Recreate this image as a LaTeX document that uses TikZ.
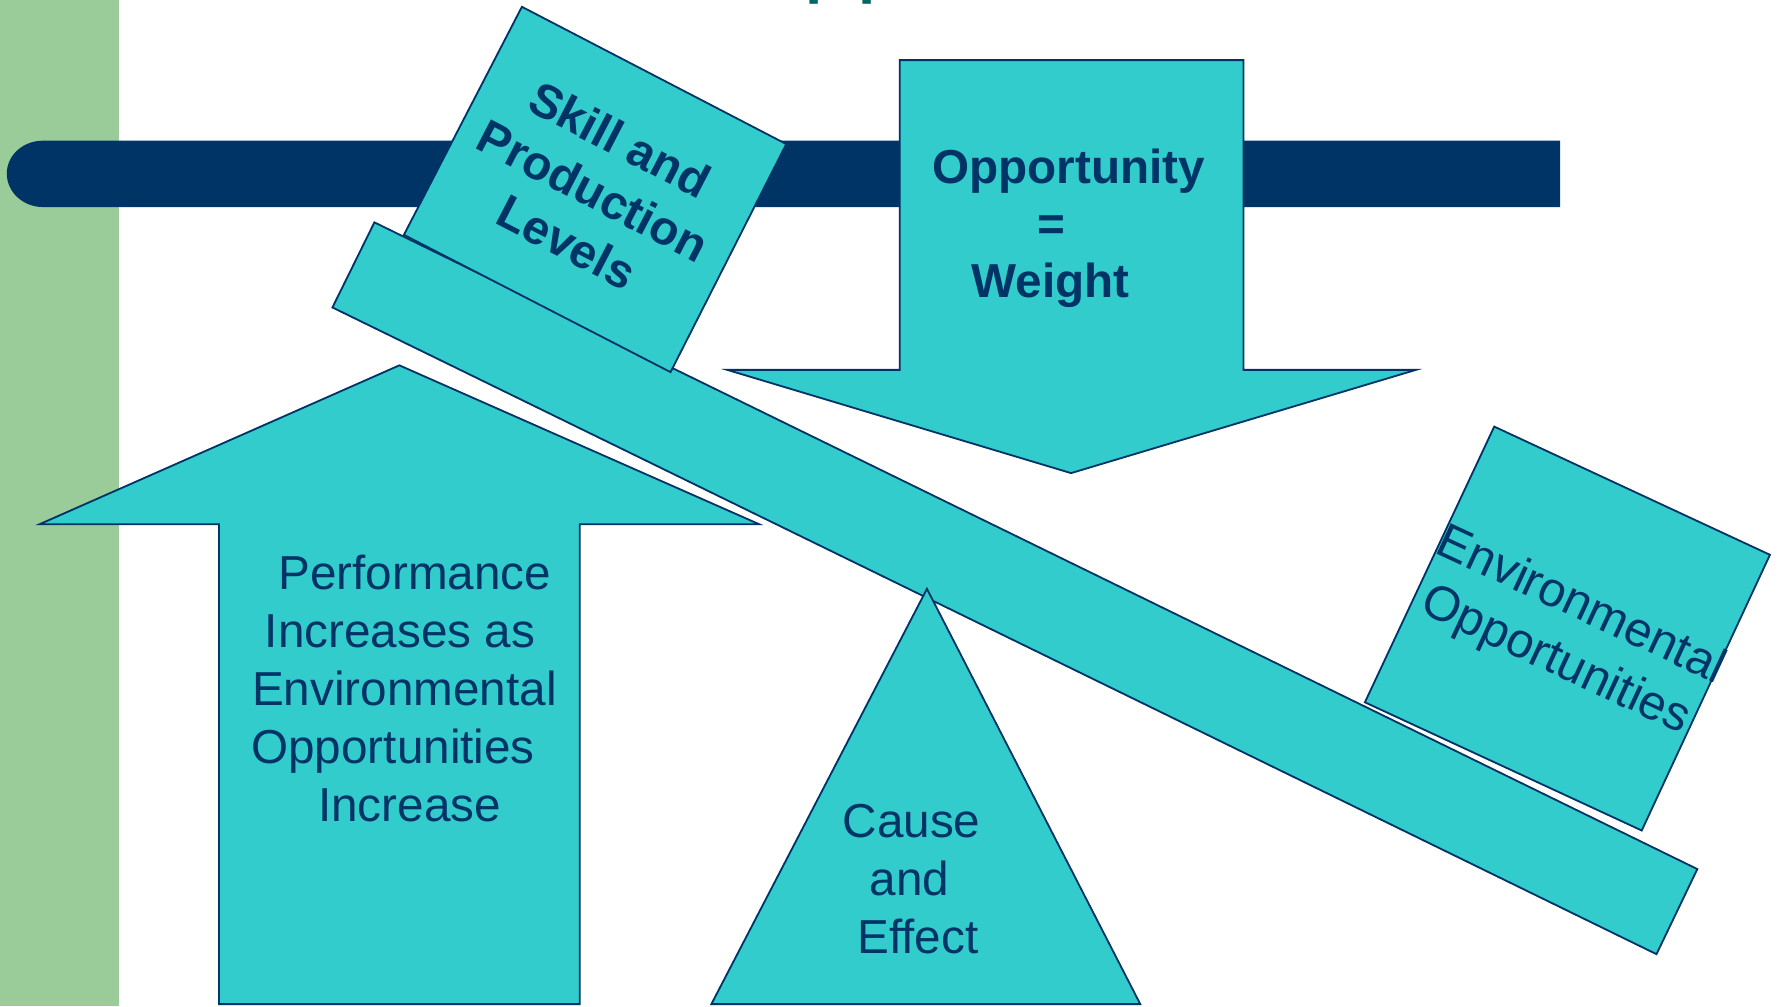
\documentclass[tikz,border=0pt]{standalone}
\usepackage{fontspec}
\setmainfont{Liberation Sans}
\definecolor{tealfill}{HTML}{33CCCC}
\definecolor{navy}{HTML}{003366}
\definecolor{sage}{HTML}{99CC99}
\definecolor{titleteal}{HTML}{006666}
\begin{document}
\begin{tikzpicture}[x=0.5pt,y=-0.5pt,
  shapefill/.style={fill=tealfill,draw=navy,line width=0.8pt,line join=miter},
  lbl/.style={text=navy,font=\fontsize{21}{25.5}\selectfont,inner sep=0pt,anchor=base},
  blbl/.style={text=navy,font=\fontsize{21}{25.5}\selectfont\bfseries,inner sep=0pt,anchor=base}]
\useasboundingbox (0,0) rectangle (1568,887);
\clip (0,0) rectangle (1568,887);
% background bars
\fill[sage] (0,0) rectangle (105,887);
\fill[navy] (1375,124) -- (38,124) .. controls (20,124) and (6,137) .. (6,153)
  .. controls (6,169) and (20,182.5) .. (38,182.5) -- (1375,182.5) -- cycle;
% cut-off title
\node[text=titleteal,font=\fontsize{42}{50}\selectfont,anchor=base west,inner sep=0pt] (title) at (707.5,-13.5) {pp};
% down arrow
\draw[shapefill] (793,53) -- (1096,53) -- (1096,326) -- (1248,326) -- (944,417) -- (641,326) -- (793,326) -- cycle;
% up arrow
\draw[shapefill] (352,322) -- (669,462) -- (511,462) -- (511,885) -- (193,885) -- (193,462) -- (35,462) -- cycle;
% beam
\draw[shapefill] (330,196) -- (1496,766) -- (1460,841) -- (293,271) -- cycle;
% environmental box
\draw[shapefill] (1317,376) -- (1560,489) -- (1447,732) -- (1203,619) -- cycle;
% fulcrum
\draw[shapefill] (817,519) -- (1005,885) -- (627,885) -- cycle;
% skill box
\draw[shapefill] (460,6) -- (693,127) -- (591,328) -- (356,207) -- cycle;
% texts
\node[blbl,anchor=center,rotate=-27.4,align=center] (skill) at (523,168) {Skill and\\Production\\Levels};
\node[blbl] (opp1) at (942,162) {Opportunity};
\node[blbl] (opp2) at (927,212) {=};
\node[blbl] (opp3) at (926,262) {Weight};
\node[lbl] (perf1) at (365.5,520) {Performance};
\node[lbl] (perf2) at (352.5,571) {Increases as};
\node[lbl] (perf3) at (356.5,622) {Environmental};
\node[lbl] (perf4) at (346.5,673) {Opportunities};
\node[lbl] (perf5) at (361,724) {Increase};
\node[lbl] (cause1) at (803.5,738) {Cause};
\node[lbl] (cause2) at (801.5,789) {and};
\node[lbl] (cause3) at (809,840) {Effect};
\node[text=navy,font=\fontsize{21.5}{26.5}\selectfont,inner sep=0pt,rotate=-24.9,align=center] (env) at (1382,559) {Environmental\\Opportunities};
\end{tikzpicture}
\end{document}
